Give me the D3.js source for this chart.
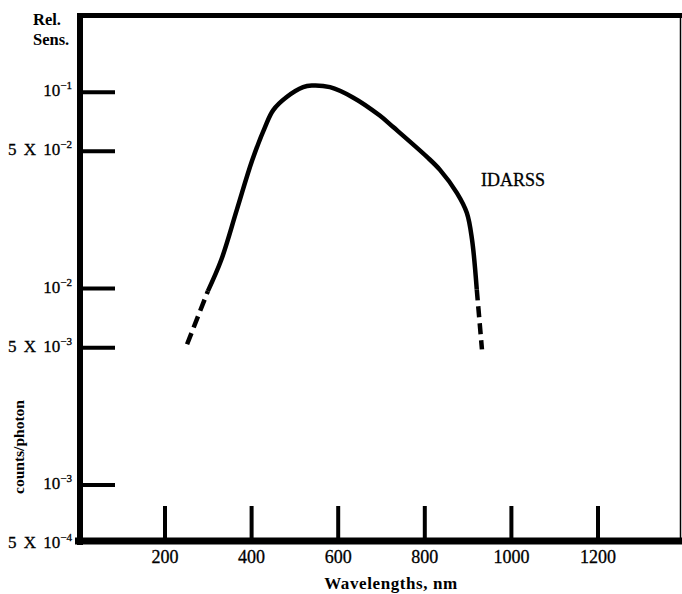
<html>
  <script src="https://d3js.org/d3.v7.min.js"></script>
  <body style="margin:0; background:white;">
    <div id="svgcontainer"></div>
    <script>
      // data
      var waveSolid = [299, 330, 366, 401, 431, 450, 481, 519, 539, 581, 634, 696, 727, 805, 835, 874, 897, 909, 920];
      var sensSolid = [0.0097, 0.0140, 0.0252, 0.0447, 0.0664, 0.081, 0.0944, 0.106, 0.108, 0.106, 0.094, 0.076, 0.0664, 0.0468, 0.0402, 0.0307, 0.0243, 0.0178, 0.0099];
      var waveLowDash = [251, 299];
      var sensLowDash = [0.0052, 0.0097];
      var waveHighDash = [920, 932];
      var sensHighDash = [0.0099, 0.0049];

      var xTicks = [200, 400, 600, 800, 1000, 1200];
      var yTickValues = [0.1, 0.05, 0.01, 0.005, 0.001, 0.0005];
      var yTickMant = ["", "5 X ", "", "5 X ", "", "5 X "];
      var yTickExp = ["\u22121", "\u22122", "\u22122", "\u22123", "\u22123", "\u22124"];

      var width = 682, height = 594;
      var svg = d3.select("#svgcontainer").append("svg")
        .attr("width", width).attr("height", height)
        .style("font-family", "'Liberation Serif', 'DejaVu Serif', serif");

      var x = d3.scaleLinear().domain([0, 1200]).range([78.4, 598]);
      var y = d3.scaleLog().domain([0.0005, 0.25]).range([544, 14]);

      var zip = function(a, b) { return a.map(function(v, i) { return {w: v, s: b[i]}; }); };

      // frame
      svg.append('line').attr('x1', 80).attr('y1', 13).attr('x2', 80).attr('y2', 545)
        .attr('stroke', 'black').attr('stroke-width', 6);
      svg.append('line').attr('x1', 77).attr('y1', 15.5).attr('x2', 682).attr('y2', 15.5)
        .attr('stroke', 'black').attr('stroke-width', 5);
      svg.append('line').attr('x1', 680.5).attr('y1', 15).attr('x2', 680.5).attr('y2', 541)
        .attr('stroke', 'black').attr('stroke-width', 1.5);
      svg.append('line').attr('x1', 75).attr('y1', 541).attr('x2', 682).attr('y2', 541)
        .attr('stroke', 'black').attr('stroke-width', 7);

      // y ticks
      svg.selectAll('.ytick').data(yTickValues.slice(0, 5)).enter().append('line')
        .attr('x1', 80).attr('x2', 115)
        .attr('y1', function(d) { return y(d); }).attr('y2', function(d) { return y(d); })
        .attr('stroke', 'black').attr('stroke-width', 4);

      var ylab = svg.selectAll('.ylab').data(yTickValues).enter().append('text')
        .attr('x', 72).attr('y', function(d) { return y(d) + 4; })
        .attr('text-anchor', 'end').attr('font-size', 17)
        .style('word-spacing', '3px')
        .attr('stroke', 'black').attr('stroke-width', 0.3);
      ylab.append('tspan').text(function(d, i) { return yTickMant[i] + "10"; });
      ylab.append('tspan').attr('dy', -7).attr('font-size', 11)
        .text(function(d, i) { return yTickExp[i]; });

      // x ticks
      svg.selectAll('.xtick').data(xTicks).enter().append('line')
        .attr('x1', function(d) { return x(d); }).attr('x2', function(d) { return x(d); })
        .attr('y1', 506).attr('y2', 541)
        .attr('stroke', 'black').attr('stroke-width', 4);

      svg.selectAll('.xlab').data(xTicks).enter().append('text')
        .attr('x', function(d) { return x(d); }).attr('y', 563)
        .attr('text-anchor', 'middle').attr('font-size', 18)
        .attr('stroke', 'black').attr('stroke-width', 0.3)
        .text(function(d) { return d; });

      // axis titles
      svg.append('text').attr('x', 33).attr('y', 25).attr('font-size', 16.5)
        .attr('font-weight', 'bold').text('Rel.');
      svg.append('text').attr('x', 33).attr('y', 45).attr('font-size', 16.5)
        .attr('font-weight', 'bold').text('Sens.');
      svg.append('text').attr('transform', 'translate(24,447) rotate(-90)')
        .attr('text-anchor', 'middle').attr('font-size', 15.5)
        .attr('font-weight', 'bold').text('counts/photon');
      svg.append('text').attr('x', 391).attr('y', 589)
        .attr('text-anchor', 'middle').attr('font-size', 17)
        .attr('font-weight', 'bold').style('letter-spacing', '0.6px')
        .text('Wavelengths, nm');

      // curve
      var curveFunc = d3.line()
        .curve(d3.curveCatmullRom.alpha(0.5))
        .x(function(d) { return x(d.w); })
        .y(function(d) { return y(d.s); });
      var lineFunc = d3.line()
        .x(function(d) { return x(d.w); })
        .y(function(d) { return y(d.s); });

      svg.append('path').attr('d', curveFunc(zip(waveSolid, sensSolid)))
        .attr('fill', 'none').attr('stroke', 'black').attr('stroke-width', 4.5);
      svg.append('path').attr('d', lineFunc(zip(waveLowDash, sensLowDash)))
        .attr('fill', 'none').attr('stroke', 'black').attr('stroke-width', 4.5)
        .attr('stroke-dasharray', '12,6');
      svg.append('path').attr('d', lineFunc(zip(waveHighDash, sensHighDash)))
        .attr('fill', 'none').attr('stroke', 'black').attr('stroke-width', 4.5)
        .attr('stroke-dasharray', '11,6');

      svg.append('text').attr('x', 481).attr('y', 186).attr('font-size', 18)
        .attr('stroke', 'black').attr('stroke-width', 0.3)
        .text('IDARSS');
    </script>
  </body>
</html>
